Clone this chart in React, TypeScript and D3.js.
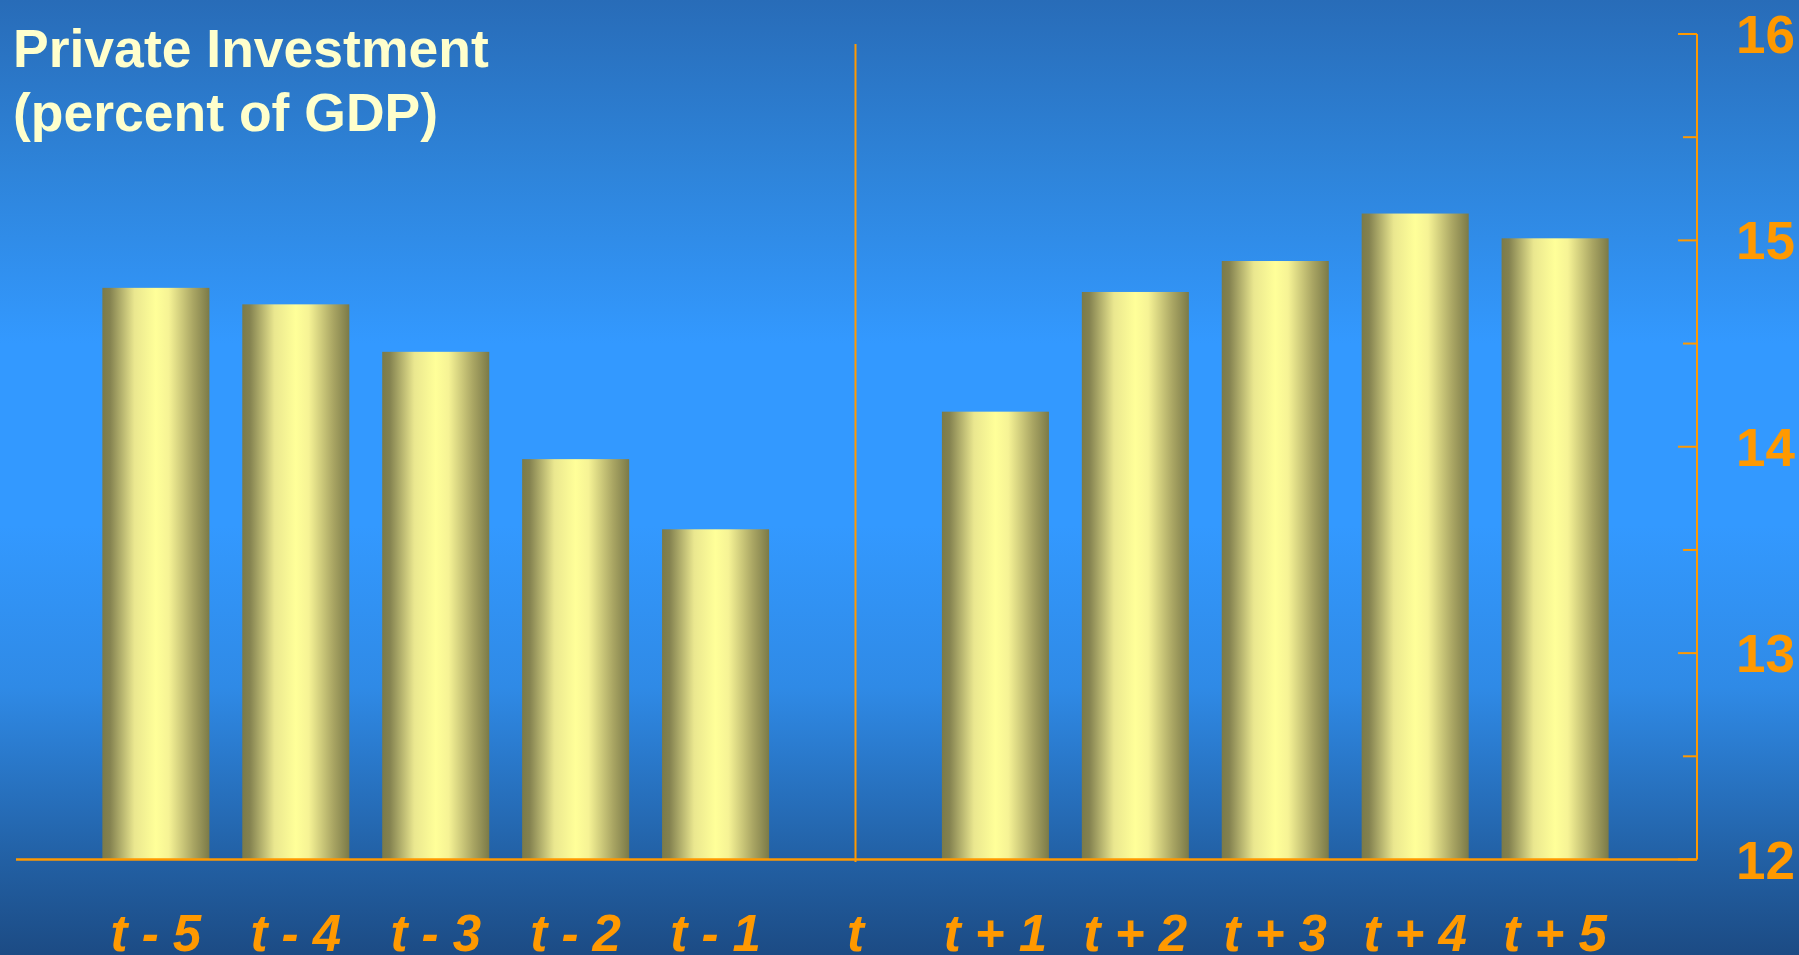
import React from "react";
import * as d3 from "d3";

const categories = ["t - 5", "t - 4", "t - 3", "t - 2", "t - 1", "t", "t + 1", "t + 2", "t + 3", "t + 4", "t + 5"];
const values: (number | null)[] = [14.77, 14.69, 14.46, 13.94, 13.6, null, 14.17, 14.75, 14.9, 15.13, 15.01];
const yMajorTicks = [12, 13, 14, 15, 16];
const yMinorTicks = [12.5, 13.5, 14.5, 15.5];
const titleLines = ["Private Investment", "(percent of GDP)"];

const W = 1799;
const H = 955;
const ORANGE = "#FF9900";

export default function App() {
  const x = d3
    .scaleBand<string>()
    .domain(categories)
    .range([86, 1625])
    .paddingInner(0.235)
    .paddingOuter(0.117);
  const y = d3.scaleLinear().domain([12, 16]).range([859.5, 34]);
  const axisX = 1697;
  const baseY = y(12);
  const bw = x.bandwidth();
  const font = "'Liberation Sans', Arial, Helvetica, sans-serif";

  return (
    <>
      <style>{`body{margin:0;overflow:hidden}`}</style>
      <svg width={W} height={H} style={{ display: "block" }}>
        <defs>
          <linearGradient id="bg" x1="0" y1="0" x2="0" y2="1">
            <stop offset="0" stopColor="#286CB8" />
            <stop offset="0.18" stopColor="#2E84DA" />
            <stop offset="0.36" stopColor="#3399FF" />
            <stop offset="0.55" stopColor="#3399FF" />
            <stop offset="0.72" stopColor="#2F8AE6" />
            <stop offset="0.9" stopColor="#2260A4" />
            <stop offset="1" stopColor="#1C4B84" />
          </linearGradient>
          <linearGradient id="bar" x1="0" y1="0" x2="1" y2="0">
            <stop offset="0" stopColor="#7B7A48" />
            <stop offset="0.07" stopColor="#848250" />
            <stop offset="0.3" stopColor="#EAE78F" />
            <stop offset="0.5" stopColor="#FFFF99" />
            <stop offset="0.62" stopColor="#F6F395" />
            <stop offset="0.85" stopColor="#A9A563" />
            <stop offset="1" stopColor="#7B7A48" />
          </linearGradient>
        </defs>
        <rect x={0} y={0} width={W} height={H} fill="url(#bg)" />

        {/* title */}
        {titleLines.map((t, i) => (
          <text
            key={t}
            x={13}
            y={66.5 + i * 64}
            fill="#FFFFCC"
            fontFamily={font}
            fontWeight="bold"
            fontSize={53.5}
          >
            {t}
          </text>
        ))}

        {/* bars */}
        {categories.map((c, i) => {
          const v = values[i];
          if (v == null) return null;
          return (
            <rect
              key={c}
              x={x(c)}
              y={y(v)}
              width={bw}
              height={baseY - y(v)}
              fill="url(#bar)"
            />
          );
        })}

        {/* vertical divider at t */}
        <line
          x1={(x("t") as number) + bw / 2}
          x2={(x("t") as number) + bw / 2}
          y1={44}
          y2={862}
          stroke={ORANGE}
          strokeWidth={2}
        />

        {/* baseline */}
        <line x1={16} x2={axisX} y1={baseY} y2={baseY} stroke={ORANGE} strokeWidth={2.5} />

        {/* right axis */}
        <line x1={axisX} x2={axisX} y1={y(16)} y2={baseY} stroke={ORANGE} strokeWidth={2} />
        {yMajorTicks.map((t) => (
          <line key={"M" + t} x1={axisX - 19} x2={axisX} y1={y(t)} y2={y(t)} stroke={ORANGE} strokeWidth={2} />
        ))}
        {yMinorTicks.map((t) => (
          <line key={"m" + t} x1={axisX - 14} x2={axisX} y1={y(t)} y2={y(t)} stroke={ORANGE} strokeWidth={2} />
        ))}
        {yMajorTicks.map((t) => (
          <text
            key={"l" + t}
            x={1795}
            y={y(t) + 19}
            textAnchor="end"
            fill={ORANGE}
            fontFamily={font}
            fontWeight="bold"
            fontSize={53}
          >
            {t}
          </text>
        ))}

        {/* category labels */}
        {categories.map((c) => (
          <text
            key={"c" + c}
            x={(x(c) as number) + bw / 2}
            y={951}
            textAnchor="middle"
            fill={ORANGE}
            fontFamily={font}
            fontWeight="bold"
            fontStyle="italic"
            fontSize={51}
            style={{ whiteSpace: "pre" }}
          >
            {c}
          </text>
        ))}
      </svg>
    </>
  );
}
